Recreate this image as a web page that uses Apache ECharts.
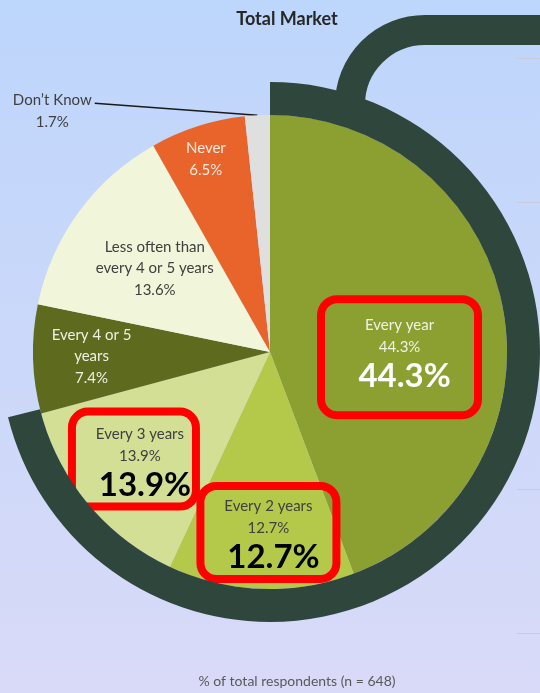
<!DOCTYPE html>
<html>
<head>
<meta charset="utf-8">
<script src="https://cdn.jsdelivr.net/npm/echarts@6/dist/echarts.min.js"></script>
<style>
  html, body { margin: 0; padding: 0; }
  #chart { width: 540px; height: 693px; }
</style>
</head>
<body>
<div id="chart"></div>
<script>
// slice data, clockwise from 12 o'clock
const categories = ["Every year", "Every 2 years", "Every 3 years", "Every 4 or 5 years",
  "Less often than every 4 or 5 years", "Never", "Don’t Know"];
const shares = [44.3, 12.7, 13.9, 7.4, 13.6, 6.5, 1.7];
const labelNames = ["Every year", "Every 2 years", "Every 3 years", "Every 4 or 5\nyears",
  "Less often than\nevery 4 or 5 years", "Never", "Don’t Know"];
const boxedSlices = ["Every year", "Every 2 years", "Every 3 years"];

const FONT = 'Lato, "Noto Sans", sans-serif';
const RING = "#2F463C";
const sliceColors = ["#8BA030", "#B4C84A", "#D2DF95", "#5E6B1E", "#F1F5DA", "#E9642A", "#DFDFDF"];
const textColors = ["#F0F2E6", "#404040", "#404040", "#EEF0E4", "#404040", "#FCEBE2", "#404040"];
const bigColors = ["#FFFFFF", "#000000", "#000000"];
// label nudges from the default inside spot
const labelShift = [[10, 27], [3, 59], [-43, 29], [-57, 1], [-17, -12], [-27, -77], [0, 0]];
const boxSizes = [
  { width: 141, padding: [15, 8, 21, 8] },
  { width: 120, padding: [9, 8, 4, 8] },
  { width: 108, padding: [12, 2, 3, 14] }
];

const chart = echarts.init(document.getElementById("chart"));

const pieData = categories.map((name, i) => {
  const pct = shares[i].toFixed(1) + "%";
  const item = { name, value: shares[i], itemStyle: { color: sliceColors[i] } };
  const boxIdx = boxedSlices.indexOf(name);
  if (boxIdx >= 0) {
    item.label = {
      formatter: `{s|${labelNames[i]}}\n{s|${pct}}\n{b|${pct}}`,
      width: boxSizes[boxIdx].width,
      padding: boxSizes[boxIdx].padding,
      borderColor: "#FF0000",
      borderWidth: 8,
      borderRadius: 16,
      rich: {
        s: { fontFamily: FONT, fontSize: 15, lineHeight: 22, color: textColors[i] },
        b: { fontFamily: FONT, fontSize: 33, lineHeight: 36, fontWeight: "bold",
             color: bigColors[boxIdx], padding: [0, 0, 0, 10] }
      }
    };
  } else if (name === "Don’t Know") {
    item.label = {
      position: "outside",
      formatter: `{n|${labelNames[i]}}\n{n|${pct}}`,
      padding: [16, 0, 0, 0],
      distanceToLabelLine: 3,
      overflow: "none",
      bleedMargin: 0,
      rich: { n: { fontFamily: FONT, fontSize: 15, lineHeight: 22, color: "#404040", align: "center" } }
    };
    item.labelLine = {
      show: true, length: 12, length2: 162, minTurnAngle: 179,
      lineStyle: { color: "#1A1A1A", width: 1.5 }
    };
  } else {
    item.label = {
      formatter: `${labelNames[i]}\n${pct}`,
      color: textColors[i],
      fontFamily: FONT,
      fontSize: 15,
      lineHeight: 21.5
    };
  }
  return item;
});

chart.setOption({
  backgroundColor: new echarts.graphic.LinearGradient(0, 0, 0, 1, [
    { offset: 0, color: "#BDD6FB" },
    { offset: 1, color: "#D9DAF8" }
  ]),
  title: [
    {
      text: "Total Market",
      left: 282, top: 5, textAlign: "center",
      textStyle: { fontFamily: FONT, fontSize: 18, fontWeight: "bold", color: "#262626" }
    },
    {
      text: "% of total respondents (n = 648)",
      left: 292, top: 669, textAlign: "center",
      textStyle: { fontFamily: FONT, fontSize: 14, fontWeight: "normal", color: "#595959" }
    }
  ],
  // the faint gridlines peeking in at the right edge
  grid: { left: 517, right: 0, top: 58, bottom: 60 },
  xAxis: { type: "value", show: false, min: 0, max: 1 },
  yAxis: {
    type: "value", min: 0, max: 4, interval: 1,
    axisLabel: { show: false }, axisLine: { show: false }, axisTick: { show: false },
    splitLine: { lineStyle: { color: "#C8CCDA", width: 1 } }
  },
  graphic: [
    {
      type: "sector", z: 5,
      shape: { cx: 270, cy: 352, r0: 237, r: 270, startAngle: -Math.PI / 2,
               endAngle: 166 * Math.PI / 180, clockwise: true },
      style: { fill: RING }
    },
    {
      type: "arc", z: 5,
      shape: { cx: 425, cy: 105, r: 75, startAngle: Math.PI, endAngle: 1.5 * Math.PI, clockwise: true },
      style: { stroke: RING, lineWidth: 30, fill: null }
    },
    {
      type: "line", z: 5,
      shape: { x1: 424, y1: 30, x2: 545, y2: 30 },
      style: { stroke: RING, lineWidth: 30 }
    }
  ],
  series: [
    {
      type: "pie",
      center: [270, 352],
      radius: 237,
      startAngle: 90,
      clockwise: true,
      avoidLabelOverlap: false,
      label: { position: "inside", fontFamily: FONT },
      labelLine: { show: true },
      labelLayout: (params) => {
        const s = labelShift[params.dataIndex];
        return { dx: s[0], dy: s[1] };
      },
      emphasis: { disabled: true },
      data: pieData
    }
  ]
});
</script>
</body>
</html>
